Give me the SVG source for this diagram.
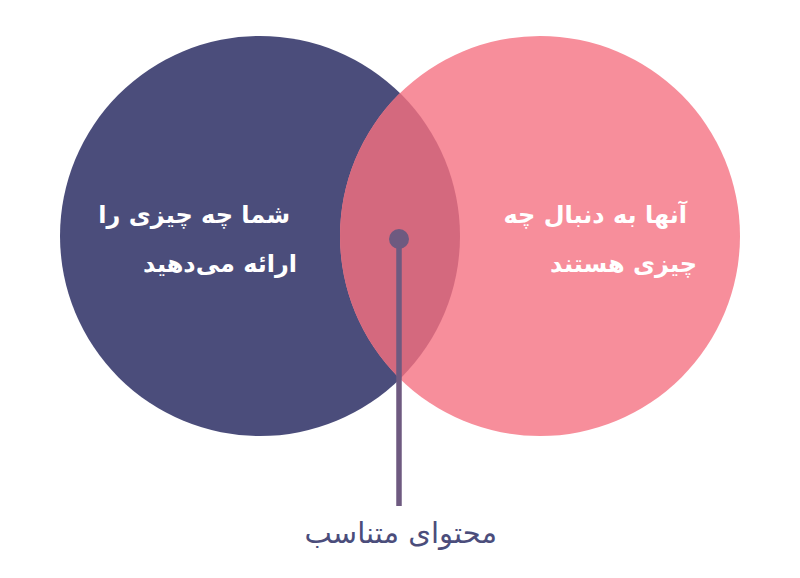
<svg xmlns="http://www.w3.org/2000/svg" width="800" height="578" viewBox="0 0 800 578">
<style>
.lbl{font-family:"DejaVu Sans","Noto Sans",sans-serif;font-weight:bold;font-size:24px;fill:#ffffff}
.cap{font-family:"DejaVu Sans","Noto Sans",sans-serif;font-size:29px;fill:#4B4D7B}
</style>
<defs>
<clipPath id="leftClip"><circle cx="260" cy="236" r="200"/></clipPath>
</defs>
<rect width="800" height="578" fill="#ffffff"/>
<g id="left-circle">
<circle cx="260" cy="236" r="200" fill="#4B4D7B"/>
</g>
<g id="right-circle">
<circle cx="540" cy="236" r="200" fill="#F78E9B"/>
</g>
<g id="overlap">
<circle cx="540" cy="236" r="200" fill="#D4697E" clip-path="url(#leftClip)"/>
</g>
<g id="connectors">
<line x1="399" y1="239" x2="399" y2="506" stroke="#6E5A80" stroke-width="5.5"/>
<circle cx="399" cy="239" r="10" fill="#6E5A80"/>
</g>
<g id="left-label">
<text class="lbl" x="290" y="223" direction="rtl" text-anchor="start">شما چه چیزی را</text>
<text class="lbl" x="297" y="272" direction="rtl" text-anchor="start">ارائه می‌دهید</text>
</g>
<g id="right-label">
<text class="lbl" x="687" y="223" direction="rtl" text-anchor="start">آنها به دنبال چه</text>
<text class="lbl" x="697" y="272" direction="rtl" text-anchor="start">چیزی هستند</text>
</g>
<g id="caption">
<text class="cap" x="497" y="543" direction="rtl" text-anchor="start">محتوای متناسب</text>
</g>
</svg>
